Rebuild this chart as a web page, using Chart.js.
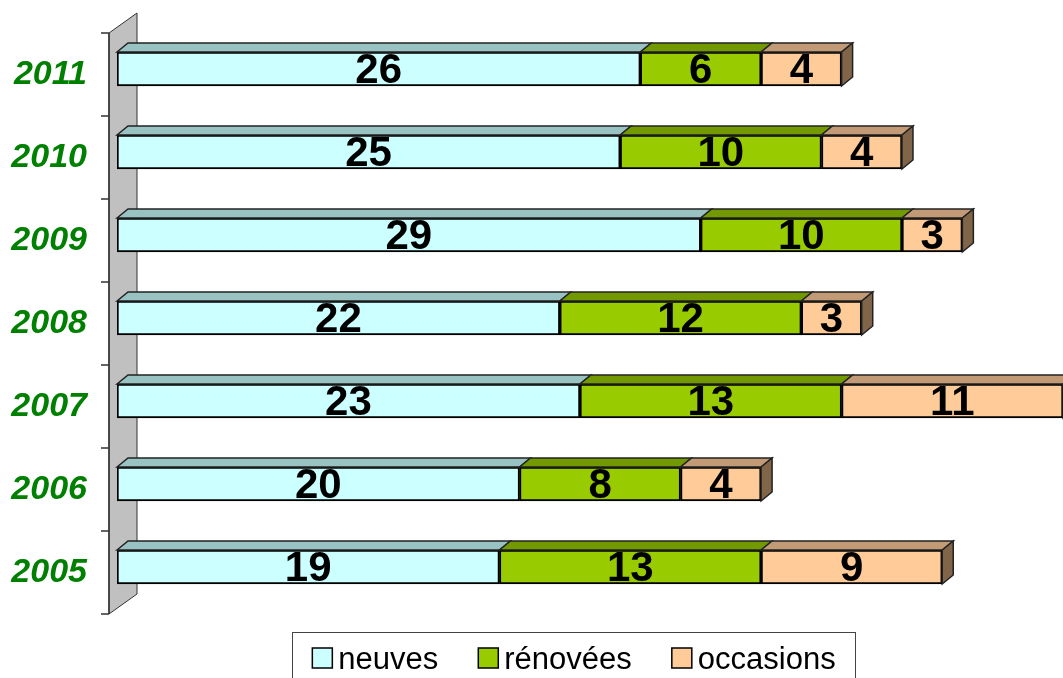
<!DOCTYPE html>
<html lang="fr">
<head>
    <meta charset="UTF-8">
    <title>Ventes par année</title>
    <script src="https://cdn.jsdelivr.net/npm/chart.js"></script>
    <style>
        body { margin: 0; background: #fff; }
        canvas { display: block; }
    </style>
</head>
<body>
<canvas id="chart" width="1063" height="678"></canvas>

<script>
    // values, top row first
    const years = ['2011', '2010', '2009', '2008', '2007', '2006', '2005'];
    const neuves = [26, 25, 29, 22, 23, 20, 19];
    const renovees = [6, 10, 10, 12, 13, 8, 13];
    const occasions = [4, 4, 3, 3, 11, 4, 9];

    const seriesNames = ['neuves', 'rénovées', 'occasions'];
    const frontColors = ['#CCFFFF', '#99CC00', '#FFCC99'];
    const topColors = ['#99C2C2', '#739900', '#C29A75'];
    const sideColor = '#806548';

    Chart.defaults.font.family = '"Liberation Sans", Arial, sans-serif';

    const DX = 11, DY = 9; // bar depth

    const threeD = {
        id: 'threeD',
        beforeDatasetsDraw(chart) {
            const ctx = chart.ctx;
            const a = chart.chartArea;
            const left = a.left - 8, top = a.top + 5.5, bottom = a.bottom + 5.5;
            ctx.save();
            // grey side wall
            ctx.beginPath();
            ctx.moveTo(left, top);
            ctx.lineTo(left + 28, top - 20);
            ctx.lineTo(left + 28, bottom - 20);
            ctx.lineTo(left, bottom);
            ctx.closePath();
            ctx.fillStyle = '#C0C0C0';
            ctx.fill();
            ctx.strokeStyle = '#333';
            ctx.lineWidth = 1;
            ctx.stroke();
            ctx.beginPath();
            ctx.lineWidth = 1.5;
            ctx.moveTo(left, top);
            ctx.lineTo(left, bottom);
            // tick marks between categories
            const step = (bottom - top) / years.length;
            for (let i = 0; i <= years.length; i++) {
                const y = top + i * step;
                ctx.moveTo(left - 8, y);
                ctx.lineTo(left, y);
            }
            ctx.stroke();
            ctx.restore();
        },
        afterDatasetsDraw(chart) {
            const ctx = chart.ctx;
            ctx.save();
            ctx.lineWidth = 1.5;
            ctx.strokeStyle = '#222';
            const n = chart.data.datasets.length;
            chart.data.datasets.forEach((ds, di) => {
                chart.getDatasetMeta(di).data.forEach(bar => {
                    const p = bar.getProps(['x', 'y', 'base', 'height'], true);
                    const l = p.base, r = p.x, t = p.y - p.height / 2, b = p.y + p.height / 2;
                    ctx.beginPath();
                    ctx.moveTo(l, t);
                    ctx.lineTo(l + DX, t - DY);
                    ctx.lineTo(r + DX, t - DY);
                    ctx.lineTo(r, t);
                    ctx.closePath();
                    ctx.fillStyle = topColors[di];
                    ctx.fill();
                    ctx.stroke();
                    if (di === n - 1) {
                        ctx.beginPath();
                        ctx.moveTo(r, t);
                        ctx.lineTo(r + DX, t - DY);
                        ctx.lineTo(r + DX, b - DY);
                        ctx.lineTo(r, b);
                        ctx.closePath();
                        ctx.fillStyle = sideColor;
                        ctx.fill();
                        ctx.stroke();
                    }
                });
            });
            // value labels
            ctx.fillStyle = '#000';
            ctx.font = 'bold 42px "Liberation Sans", Arial, sans-serif';
            ctx.textAlign = 'center';
            ctx.textBaseline = 'middle';
            chart.data.datasets.forEach((ds, di) => {
                chart.getDatasetMeta(di).data.forEach((bar, i) => {
                    const p = bar.getProps(['x', 'y', 'base'], true);
                    ctx.fillText(String(ds.data[i]), (p.base + p.x) / 2, p.y + 2);
                });
            });
            ctx.restore();
        },
        afterDraw(chart) {
            // boxed legend under the plot
            const ctx = chart.ctx;
            ctx.save();
            ctx.font = '31px "Liberation Sans", Arial, sans-serif';
            const sq = 20, gap = 6, itemGap = 40;
            const widths = seriesNames.map(s => ctx.measureText(s).width);
            const total = widths.reduce((s, w) => s + w, 0) + seriesNames.length * (sq + gap) + itemGap * (seriesNames.length - 1);
            const cx = 574;
            let x = cx - total / 2;
            ctx.strokeStyle = '#444';
            ctx.lineWidth = 1;
            ctx.strokeRect(Math.round(x - 20) + 0.5, 632.5, Math.round(total + 40), 60);
            ctx.textBaseline = 'middle';
            ctx.textAlign = 'left';
            seriesNames.forEach((s, i) => {
                ctx.fillStyle = frontColors[i];
                ctx.fillRect(x, 648, sq, sq);
                ctx.strokeStyle = '#000';
                ctx.lineWidth = 1.5;
                ctx.strokeRect(x, 648, sq, sq);
                ctx.fillStyle = '#000';
                ctx.fillText(s, x + sq + gap, 660);
                x += sq + gap + widths[i] + itemGap;
            });
            ctx.restore();
        }
    };

    const makeSet = (i, values) => ({
        label: seriesNames[i],
        data: values,
        backgroundColor: frontColors[i],
        borderColor: '#000',
        borderWidth: 2,
        borderSkipped: false,
        barThickness: 34
    });

    new Chart(document.getElementById('chart').getContext('2d'), {
        type: 'bar',
        data: {
            labels: years,
            datasets: [makeSet(0, neuves), makeSet(1, renovees), makeSet(2, occasions)]
        },
        options: {
            indexAxis: 'y',
            responsive: false,
            animation: false,
            layout: { padding: { top: 27.5, bottom: 69.5, left: 0, right: 0 } },
            plugins: {
                legend: { display: false },
                tooltip: { enabled: false }
            },
            scales: {
                x: { stacked: true, display: false, min: 0, max: 47 },
                y: {
                    stacked: true,
                    grid: { display: false, drawTicks: false },
                    border: { display: false },
                    ticks: {
                        color: '#008000',
                        font: { size: 34, weight: 'bold', style: 'italic' },
                        padding: 30,
                        labelOffset: 5.5
                    },
                    afterFit(scale) {
                        scale.width = 117;
                        scale.paddingTop = 0;
                        scale.paddingBottom = 0;
                    }
                }
            }
        },
        plugins: [threeD]
    });
</script>
</body>
</html>
